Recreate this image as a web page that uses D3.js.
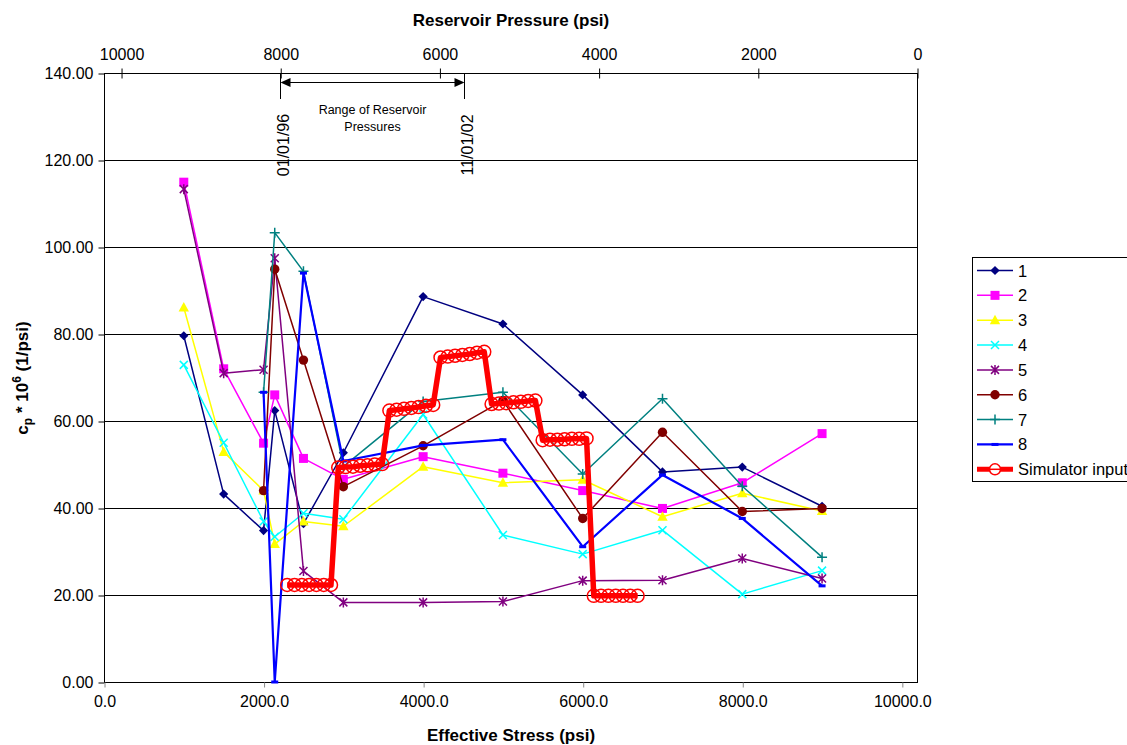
<!DOCTYPE html>
<html>
<head>
<meta charset="utf-8">
<script src="https://cdn.jsdelivr.net/npm/d3@7"></script>
<style>
  html, body { margin: 0; padding: 0; background: #fff; overflow: hidden; }
  svg { display: block; font-family: "Liberation Sans", Arial, sans-serif; }
</style>
</head>
<body>
<svg id="chart" width="1127" height="745"></svg>
<script>
// Effective stress (psi) at which each sample was measured
const stress = [1000, 1500, 2000, 2140, 2500, 3000, 4000, 5000, 6000, 7000, 8000, 9000];

// Pore compressibility cp * 1e6 (1/psi) for samples 1–8
const sample1 = [79.6, 43.2, 34.8, 62.4, 36.4, 52.7, 88.6, 82.3, 66.0, 48.3, 49.4, 40.4];
const sample2 = [114.9, 72.0, 54.9, 66.0, 51.4, 46.6, 51.8, 48.0, 44.0, 39.9, 45.8, 57.1];
const sample3 = [86.1, 52.9, 44.0, 31.7, 36.9, 35.8, 49.5, 45.8, 46.5, 38.0, 43.4, 39.3];
const sample4 = [72.9, 55.0, 36.9, 33.4, 38.8, 37.4, 61.5, 33.8, 29.4, 34.9, 20.2, 25.6];
const sample5 = [113.3, 71.0, 71.8, 97.4, 25.5, 18.3, 18.3, 18.5, 23.3, 23.4, 28.4, 23.8];
const sample6 = [null, null, 44.0, 94.9, 74.0, 44.9, 54.3, 64.7, 37.6, 57.4, 39.2, 39.9];
const sample7 = [null, null, 66.6, 103.3, 94.4, 49.5, 64.5, 66.6, 47.8, 65.1, 45.0, 28.7];
const sample8 = [null, null, 66.6, 0.0, 94.0, 50.8, 54.4, 55.7, 31.1, 47.6, 37.6, 22.1];

// Compressibility table used as simulator input
const simStress = [
  2296, 2388, 2479, 2570, 2662, 2754, 2845,
  2936, 3028, 3120, 3211, 3302, 3394, 3486,
  3577, 3668, 3760, 3852, 3943, 4034, 4126,
  4218, 4309, 4400, 4492, 4584, 4675, 4766,
  4858, 4950, 5041, 5132, 5224, 5316, 5407,
  5498, 5590, 5682, 5773, 5864, 5956, 6048,
  6139, 6230, 6322, 6414, 6505, 6596, 6688
];
const simCp = [
  22.3, 22.3, 22.3, 22.3, 22.3, 22.3, 22.3,
  49.3, 49.4, 49.5, 49.7, 49.8, 50.0, 50.1,
  62.4, 62.6, 62.8, 63.0, 63.2, 63.5, 63.7,
  74.6, 74.8, 75.0, 75.2, 75.4, 75.7, 75.9,
  63.9, 64.0, 64.1, 64.3, 64.4, 64.6, 64.7,
  55.6, 55.7, 55.7, 55.8, 55.9, 55.9, 56.0,
  19.8, 19.8, 19.8, 19.8, 19.8, 19.8, 19.8
];

// Axis ticks
const yTicks = [0, 20, 40, 60, 80, 100, 120, 140];
const stressTicks = [0, 2000, 4000, 6000, 8000, 10000];
const pressureTicks = [10000, 8000, 6000, 4000, 2000, 0];

// Reservoir pressure range between the two survey dates
const rangeStart = { pressure: 8000, label: "01/01/96" };
const rangeEnd = { pressure: 5690, label: "11/01/02" };

const seriesNames = ["1", "2", "3", "4", "5", "6", "7", "8"];
const seriesValues = [sample1, sample2, sample3, sample4, sample5, sample6, sample7, sample8];
const seriesStyle = [
  { color: "#000080", marker: "diamond", width: 1.5 },
  { color: "#FF00FF", marker: "square", width: 1.5 },
  { color: "#FFFF00", marker: "triangle", width: 1.5 },
  { color: "#00FFFF", marker: "cross", width: 1.5 },
  { color: "#800080", marker: "asterisk", width: 1.5 },
  { color: "#800000", marker: "circle", width: 1.5 },
  { color: "#008080", marker: "plus", width: 1.5 },
  { color: "#0000FF", marker: "dash", width: 2.2 }
];

const plot = { left: 104, right: 917, top: 73, bottom: 682 };
const svg = d3.select("#chart");
const FONT = 16;

const x = d3.scaleLinear().domain([0, 10190]).range([plot.left, plot.right]);
const xTop = d3.scaleLinear().domain([10214, 0]).range([plot.left, plot.right]);
const y = d3.scaleLinear().domain([0, 140]).range([plot.bottom, plot.top]);

// Horizontal gridlines
svg.append("g")
  .selectAll("line")
  .data(yTicks.filter(d => d > 0 && d < 140))
  .join("line")
  .attr("x1", plot.left).attr("x2", plot.right)
  .attr("y1", d => Math.round(y(d)) + 0.5).attr("y2", d => Math.round(y(d)) + 0.5)
  .attr("stroke", "#000").attr("stroke-width", 1);

// Plot frame
svg.append("rect")
  .attr("x", plot.left + 0.5).attr("y", plot.top + 0.5)
  .attr("width", plot.right - plot.left).attr("height", plot.bottom - plot.top)
  .attr("fill", "none").attr("stroke", "#000").attr("stroke-width", 1);

// Left axis
const yAxis = d3.axisLeft(y).tickValues(yTicks).tickFormat(d3.format(".2f")).tickSize(6).tickPadding(5);
const gy = svg.append("g").attr("transform", `translate(${plot.left + 0.5},0.5)`).call(yAxis);
gy.select(".domain").remove();
gy.selectAll("text").attr("font-size", FONT).attr("fill", "#000").attr("font-family", "Liberation Sans, Arial, sans-serif");

// Bottom axis (effective stress)
const xAxis = d3.axisBottom(x).tickValues(stressTicks).tickFormat(d3.format(".1f")).tickSize(5).tickPadding(8);
const gx = svg.append("g").attr("transform", `translate(0.5,${plot.bottom + 0.5})`).call(xAxis);
gx.select(".domain").remove();
gx.selectAll("line").attr("stroke", "#888");
gx.selectAll("text").attr("font-size", FONT).attr("fill", "#000").attr("font-family", "Liberation Sans, Arial, sans-serif");

// Top axis (reservoir pressure), ticks cross the axis line
const xTopAxis = d3.axisTop(xTop).tickValues(pressureTicks).tickFormat(d3.format("d")).tickSize(5).tickPadding(9);
const gt = svg.append("g").attr("transform", `translate(0.5,${plot.top + 0.5})`).call(xTopAxis);
gt.select(".domain").remove();
gt.selectAll(".tick line").attr("y1", 5).attr("y2", -5);
gt.selectAll("text").attr("font-size", FONT).attr("fill", "#000").attr("font-family", "Liberation Sans, Arial, sans-serif");

// Axis titles
svg.append("text")
  .attr("x", 511).attr("y", 26)
  .attr("text-anchor", "middle").attr("font-size", 17).attr("font-weight", "bold")
  .text("Reservoir Pressure (psi)");
svg.append("text")
  .attr("x", 511).attr("y", 741)
  .attr("text-anchor", "middle").attr("font-size", 17).attr("font-weight", "bold")
  .text("Effective Stress (psi)");
const yTitle = svg.append("text")
  .attr("transform", "translate(28,378) rotate(-90)")
  .attr("text-anchor", "middle").attr("font-size", 17).attr("font-weight", "bold");
yTitle.append("tspan").text("c");
yTitle.append("tspan").attr("font-size", 12).attr("dy", 4).text("p");
yTitle.append("tspan").attr("dy", -4).text(" * 10");
yTitle.append("tspan").attr("font-size", 12).attr("dy", -7).text("6");
yTitle.append("tspan").attr("dy", 7).text(" (1/psi)");

// Pressure range annotation
const xa = Math.round(xTop(rangeStart.pressure)) + 0.5;
const xb = Math.round(xTop(rangeEnd.pressure)) + 0.5;
const ann = svg.append("g");
ann.append("line").attr("x1", xa).attr("x2", xa).attr("y1", plot.top).attr("y2", 99).attr("stroke", "#000");
ann.append("line").attr("x1", xb).attr("x2", xb).attr("y1", plot.top).attr("y2", 99).attr("stroke", "#000");
const ay = 82.5;
ann.append("line").attr("x1", xa + 8).attr("x2", xb - 8).attr("y1", ay).attr("y2", ay).attr("stroke", "#000").attr("stroke-width", 1.2);
ann.append("path").attr("d", `M${xa},${ay} L${xa + 10},${ay - 4.5} L${xa + 10},${ay + 4.5} Z`).attr("fill", "#000");
ann.append("path").attr("d", `M${xb},${ay} L${xb - 10},${ay - 4.5} L${xb - 10},${ay + 4.5} Z`).attr("fill", "#000");
ann.append("text").attr("x", (xa + xb) / 2).attr("y", 114).attr("text-anchor", "middle").attr("font-size", 12.5).text("Range of Reservoir");
ann.append("text").attr("x", (xa + xb) / 2).attr("y", 131).attr("text-anchor", "middle").attr("font-size", 12.5).text("Pressures");
[rangeStart, rangeEnd].forEach(r => {
  const px = xTop(r.pressure);
  ann.append("text")
    .attr("transform", `translate(${px + 8.5},145) rotate(-90)`)
    .attr("text-anchor", "middle").attr("font-size", FONT).text(r.label);
});

// Marker shapes
function drawMarker(g, type, cx, cy, color) {
  switch (type) {
    case "diamond":
      g.append("path").attr("d", `M${cx},${cy - 4.6} L${cx + 4.6},${cy} L${cx},${cy + 4.6} L${cx - 4.6},${cy} Z`).attr("fill", color);
      break;
    case "square":
      g.append("rect").attr("x", cx - 4.5).attr("y", cy - 4.5).attr("width", 9).attr("height", 9).attr("fill", color);
      break;
    case "triangle":
      g.append("path").attr("d", `M${cx},${cy - 5.5} L${cx + 5.2},${cy + 4} L${cx - 5.2},${cy + 4} Z`).attr("fill", color);
      break;
    case "cross":
      g.append("path").attr("d", `M${cx - 4},${cy - 4} L${cx + 4},${cy + 4} M${cx - 4},${cy + 4} L${cx + 4},${cy - 4}`).attr("stroke", color).attr("stroke-width", 1.5);
      break;
    case "asterisk":
      g.append("path").attr("d", `M${cx - 4},${cy - 4} L${cx + 4},${cy + 4} M${cx - 4},${cy + 4} L${cx + 4},${cy - 4} M${cx},${cy - 5} L${cx},${cy + 5}`).attr("stroke", color).attr("stroke-width", 1.5);
      break;
    case "circle":
      g.append("circle").attr("cx", cx).attr("cy", cy).attr("r", 4.7).attr("fill", color);
      break;
    case "plus":
      g.append("path").attr("d", `M${cx - 5},${cy} L${cx + 5},${cy} M${cx},${cy - 5} L${cx},${cy + 5}`).attr("stroke", color).attr("stroke-width", 1.5);
      break;
    case "dash":
      g.append("rect").attr("x", cx - 3.5).attr("y", cy - 1.5).attr("width", 7).attr("height", 3).attr("fill", color);
      break;
  }
}

// Sample series
const line = d3.line().defined(d => d[1] != null).x(d => x(d[0])).y(d => y(d[1]));
seriesValues.forEach((vals, i) => {
  const st = seriesStyle[i];
  const pts = stress.map((s, k) => [s, vals[k]]).filter(d => d[1] != null);
  const g = svg.append("g");
  g.append("path").datum(pts).attr("d", line).attr("fill", "none")
    .attr("stroke", st.color).attr("stroke-width", st.width).attr("stroke-linejoin", "round");
  pts.forEach(p => drawMarker(g, st.marker, x(p[0]), y(p[1]), st.color));
});

// Simulator input step curve
const simPts = simStress.map((s, k) => [s, simCp[k]]);
const gs = svg.append("g");
gs.append("path").datum(simPts).attr("d", line).attr("fill", "none")
  .attr("stroke", "#FF0000").attr("stroke-width", 5.5).attr("stroke-linejoin", "round");
gs.selectAll("circle").data(simPts).join("circle")
  .attr("cx", d => x(d[0])).attr("cy", d => y(d[1])).attr("r", 6.5)
  .attr("fill", "none").attr("stroke", "#FF0000").attr("stroke-width", 1.5);

// Legend
const lg = svg.append("g");
lg.append("rect").attr("x", 972.5).attr("y", 257.5).attr("width", 170).attr("height", 224)
  .attr("fill", "#fff").attr("stroke", "#000").attr("stroke-width", 1);
const legendItems = seriesNames.map((n, i) => ({ name: n, ...seriesStyle[i] }));
legendItems.push({ name: "Simulator input", color: "#FF0000", marker: "sim", width: 5 });
legendItems.forEach((it, i) => {
  const ly = 270.5 + i * 24.85;
  const g = lg.append("g");
  g.append("line").attr("x1", 977).attr("x2", 1013).attr("y1", ly).attr("y2", ly)
    .attr("stroke", it.color).attr("stroke-width", it.width);
  if (it.marker === "sim") {
    g.append("circle").attr("cx", 995).attr("cy", ly).attr("r", 5.5)
      .attr("fill", "#fff").attr("stroke", "#FF0000").attr("stroke-width", 1.5);
    g.append("line").attr("x1", 989.5).attr("x2", 1000.5).attr("y1", ly).attr("y2", ly).attr("stroke", "#FF0000").attr("stroke-width", 1.5);
  } else {
    drawMarker(g, it.marker, 995, ly, it.color);
  }
  g.append("text").attr("x", 1018).attr("y", ly + 6).attr("font-size", 16.5).text(it.name);
});
</script>
</body>
</html>
